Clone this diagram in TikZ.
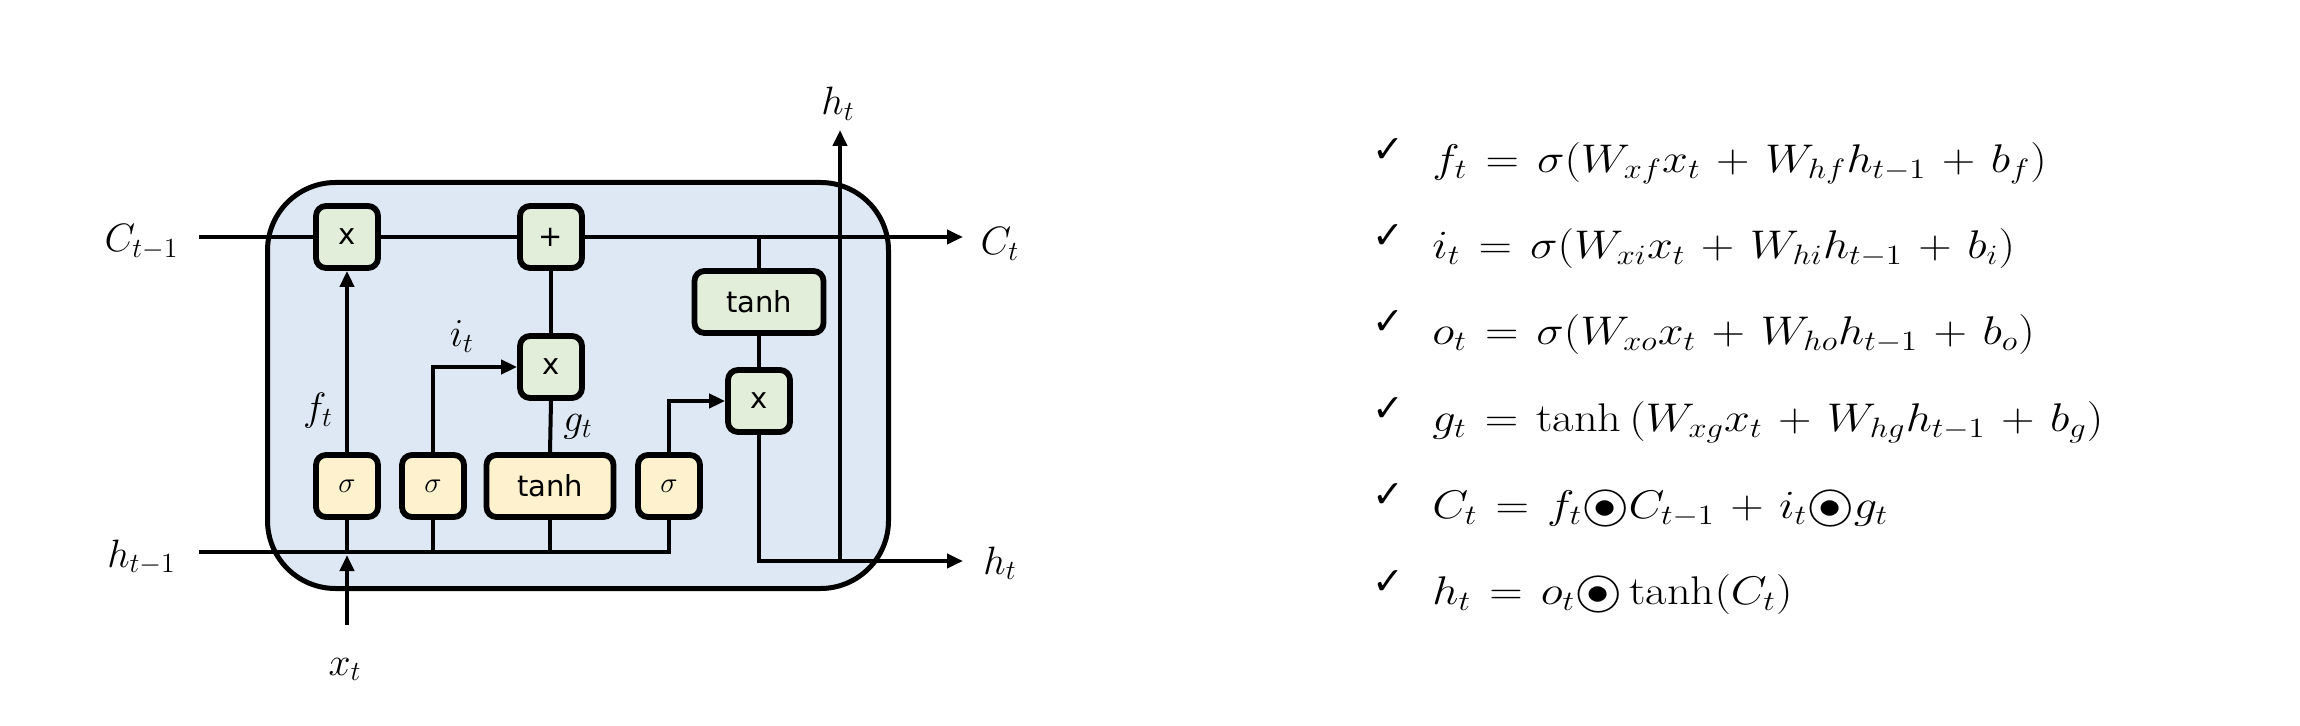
\RequirePackage{fix-cm}
\documentclass[tikz,border=0pt]{standalone}
\usepackage{fontspec}
\newfontfamily\dejavu{DejaVu Sans}
\usetikzlibrary{arrows.meta}
\definecolor{cellblue}{HTML}{DEE8F4}
\definecolor{boxgreen}{HTML}{E2EEDA}
\definecolor{boxyellow}{HTML}{FDF2CD}
\newcommand{\hadam}{\mathord{\ooalign{$\bigcirc$\cr\hidewidth$\bullet$\hidewidth\cr}}}
\newcommand{\eqspacing}{\medmuskip=6mu plus 2mu minus 2mu\thickmuskip=7mu plus 2mu}
\tikzset{
  cell/.style={draw, line width=2.5pt, fill=cellblue, rounded corners=34pt},
  gbox/.style={draw, line width=2.9pt, fill=boxgreen, rounded corners=5pt,
    minimum width=31pt, minimum height=31pt, inner sep=0pt,
    font=\dejavu\fontsize{14.5}{16}\selectfont},
  ybox/.style={gbox, fill=boxyellow},
  wire/.style={line width=2pt},
  arr/.style={wire, -{Triangle[length=8pt,width=7pt]}},
  lbl/.style={font=\fontsize{19.8}{24}\selectfont, inner sep=0pt, anchor=base},
  eq/.style={font=\fontsize{20}{23}\selectfont\eqspacing, inner sep=0pt, anchor=base west, xscale=1.16},
  chk/.style={font=\dejavu\bfseries\fontsize{19}{21}\selectfont, inner sep=0pt, anchor=base west},
}
\begin{document}
\begin{tikzpicture}[x=0.5pt,y=-0.5pt]
\useasboundingbox (0,0) rectangle (2300,726);
% cell
\draw[cell] (267.5,182.5) rectangle (888.5,588.5);
% nodes
\node[gbox] (mulf) at (347,237) {x};
\node[gbox] (plus) at (551,237) {+};
\node[gbox, minimum width=64.5pt] (tanhc) at (759,302) {tanh};
\node[gbox] (muli) at (551,367) {x};
\node[gbox] (mulo) at (759,401) {x};
\node[ybox] (sigf) at (347,486) {$\sigma$};
\node[ybox] (sigi) at (433,486) {$\sigma$};
\node[ybox, minimum width=63.5pt] (tanhg) at (550,486) {tanh};
\node[ybox] (sigo) at (669,486) {$\sigma$};
% coordinates
\coordinate (cin) at (199,237);
\coordinate (cout) at (963,237);
\coordinate (hin) at (199,552);
\coordinate (hout) at (963,561);
\coordinate (hjoin) at (840,561);
\coordinate (htip) at (840,130);
\coordinate (xin) at (347,625);
\coordinate (xtip) at (347,555);
% cell state line
\draw[wire] (cin) -- (mulf.west);
\draw[wire] (mulf.east) -- (plus.west);
\draw[arr] (plus.east) -- (cout);
% h_{t-1} bus
\draw[wire] (hin) -| (sigo.south);
\draw[wire] (sigf.south) -- (sigf.south |- hin);
\draw[wire] (sigi.south) -- (sigi.south |- hin);
\draw[wire] (tanhg.south) -- (tanhg.south |- hin);
\draw[arr] (xin) -- (xtip);
% gates
\draw[arr] (sigf.north) -- (mulf.south);
\draw[arr] (sigi.north) |- (muli.west);
\draw[wire] (tanhg.north) -- (muli.south);
\draw[wire] (muli.north) -- (plus.south);
\draw[arr] (sigo.north) |- (mulo.west);
\draw[wire] (tanhc.north) -- (tanhc.north |- cin);
\draw[wire] (tanhc.south) -- (mulo.north);
\draw[arr] (mulo.south) |- (hout);
\draw[arr] (hjoin) -- (htip);
% labels
\node[lbl] (lcprev) at (141.5,252) {$C_{t-1}$};
\node[lbl] (lhprev) at (141.5,567) {$h_{t-1}$};
\node[lbl] (lcnext) at (1000,255) {$C_t$};
\node[lbl] (lhnext) at (1000,574) {$h_t$};
\node[lbl] (lhtop) at (838,115) {$h_t$};
\node[lbl] (lxt) at (345,675) {$x_t$};
\node[lbl] (lft) at (318,421) {$f_t$};
\node[lbl] (lit) at (462,347) {$i_t$};
\node[lbl] (lgt) at (578,432) {$g_t$};
% equations
\node[chk] (k1) at (1372,163) {✓};
\node[chk] (k2) at (1372,249) {✓};
\node[chk] (k3) at (1372,335) {✓};
\node[chk] (k4) at (1372,422) {✓};
\node[chk] (k5) at (1372,508) {✓};
\node[chk] (k6) at (1372,594) {✓};
\node[eq] (e1) at (1432,173) {$f_t = \sigma(W_{xf}x_t + W_{hf}h_{t-1} + b_f)$};
\node[eq] (e2) at (1432,259) {$i_t = \sigma(W_{xi}x_t + W_{hi}h_{t-1} + b_i)$};
\node[eq] (e3) at (1432,345) {$o_t = \sigma(W_{xo}x_t + W_{ho}h_{t-1} + b_o)$};
\node[eq] (e4) at (1432,432) {$g_t = \tanh\,(W_{xg}x_t + W_{hg}h_{t-1} + b_g)$};
\node[eq] (e5) at (1432,518) {$C_t = f_t\hadam C_{t-1} + i_t\hadam g_t$};
\node[eq] (e6) at (1432,604) {$h_t = o_t\hadam\tanh(C_t)$};
\end{tikzpicture}
\end{document}
